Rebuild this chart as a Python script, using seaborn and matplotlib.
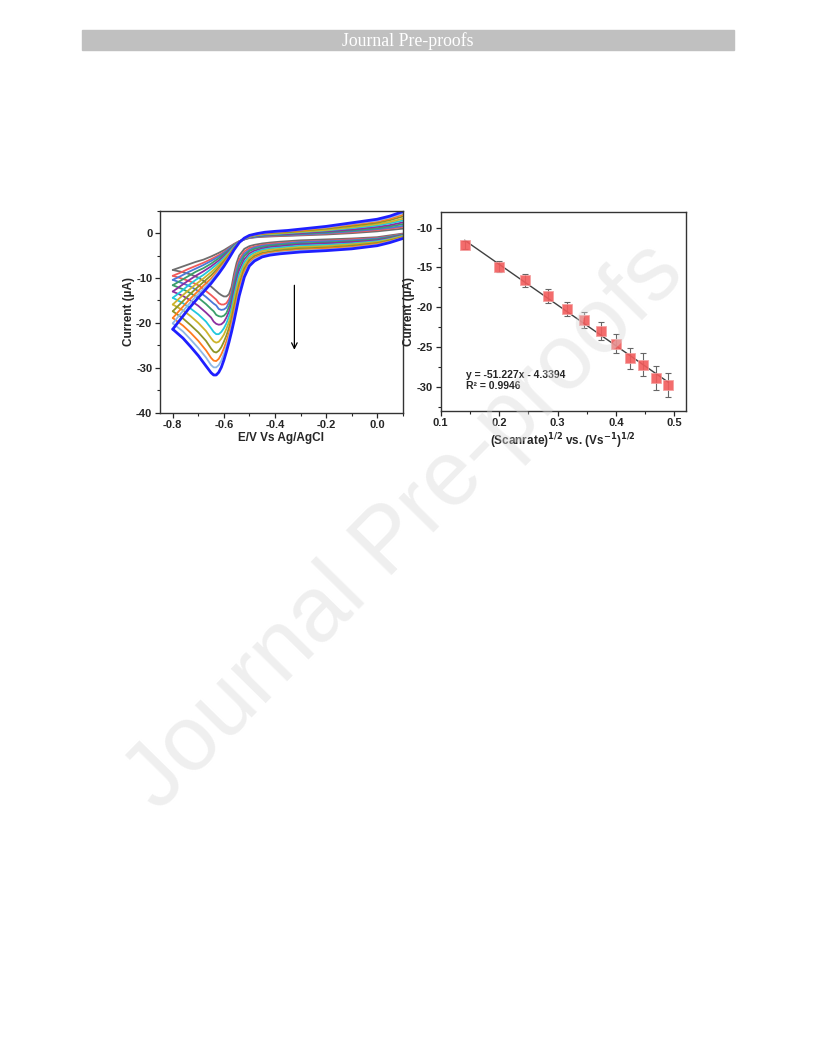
import numpy as np
import pandas as pd
import seaborn as sns
import matplotlib.pyplot as plt
from matplotlib.patches import Rectangle
from matplotlib.ticker import MultipleLocator

# ---- CV curves ----
E_cathodic = [0.1, 0.05, 0.0, -0.1, -0.2, -0.3, -0.38, -0.42, -0.45, -0.48, -0.5, -0.52,
              -0.54, -0.55, -0.56, -0.57, -0.58, -0.59, -0.6, -0.61, -0.62, -0.63, -0.64,
              -0.65, -0.67, -0.7, -0.73, -0.76, -0.8]
E_anodic = [-0.8, -0.77, -0.74, -0.71, -0.68, -0.65, -0.62, -0.6, -0.58, -0.56, -0.54,
            -0.52, -0.5, -0.47, -0.44, -0.4, -0.35, -0.3, -0.2, -0.1, 0.0, 0.05, 0.1]

curve_names = ["gray", "red", "blue2", "green", "purple", "cyan", "gold",
               "olive", "orange", "lightblue", "blue"]

I_cathodic = {
    "gray":      [-0.1, -0.5, -0.9, -1.2, -1.4, -1.6, -1.9, -2.1, -2.3, -2.6, -2.9, -3.5, -5.0, -6.6, -9.0, -12.0, -13.6, -14.1, -14.1, -13.8, -13.4, -12.9, -12.4, -11.9, -11.0, -9.9, -9.2, -8.7, -8.2],
    "red":       [-0.2, -0.7, -1.1, -1.4, -1.7, -1.9, -2.2, -2.4, -2.6, -3.0, -3.3, -4.1, -5.9, -7.6, -10.1, -13.0, -14.7, -15.6, -15.9, -15.9, -15.6, -14.8, -14.3, -13.8, -12.9, -11.6, -10.8, -10.2, -9.5],
    "blue2":     [-0.3, -0.8, -1.2, -1.6, -1.8, -2.0, -2.4, -2.6, -2.8, -3.2, -3.7, -4.6, -6.5, -8.3, -10.8, -13.7, -15.4, -16.6, -17.0, -17.1, -16.9, -16.1, -15.7, -15.2, -14.2, -12.9, -11.9, -11.2, -10.4],
    "green":     [-0.4, -0.9, -1.4, -1.8, -2.1, -2.3, -2.6, -2.8, -3.1, -3.5, -4.0, -5.1, -7.3, -9.3, -11.7, -14.6, -16.4, -17.8, -18.4, -18.6, -18.5, -18.2, -17.4, -16.9, -15.8, -14.4, -13.4, -12.5, -11.6],
    "purple":    [-0.5, -1.1, -1.6, -2.0, -2.3, -2.5, -2.9, -3.1, -3.4, -3.9, -4.5, -5.8, -8.2, -10.3, -12.8, -15.6, -17.5, -18.8, -19.8, -20.3, -20.4, -20.2, -19.7, -18.8, -17.7, -16.2, -15.0, -14.0, -13.0],
    "cyan":      [-0.6, -1.3, -1.8, -2.3, -2.6, -2.8, -3.2, -3.4, -3.7, -4.3, -5.0, -6.5, -9.2, -11.4, -13.9, -16.7, -18.6, -20.1, -21.2, -22.0, -22.5, -22.5, -22.0, -21.2, -19.7, -18.1, -16.8, -15.6, -14.4],
    "gold":      [-0.7, -1.4, -2.0, -2.5, -2.9, -3.1, -3.5, -3.7, -4.0, -4.7, -5.5, -7.2, -10.2, -12.5, -15.1, -17.8, -19.8, -21.3, -22.6, -23.5, -24.2, -24.4, -24.1, -23.4, -21.8, -20.0, -18.5, -17.2, -15.9],
    "olive":     [-0.9, -1.6, -2.2, -2.8, -3.2, -3.4, -3.8, -4.1, -4.4, -5.1, -6.0, -7.9, -11.3, -13.7, -16.4, -19.0, -21.1, -22.8, -24.2, -25.4, -26.2, -26.6, -26.4, -25.7, -24.0, -22.1, -20.5, -19.0, -17.4],
    "orange":    [-1.0, -1.8, -2.4, -3.1, -3.4, -3.7, -4.1, -4.4, -4.7, -5.5, -6.5, -8.6, -12.3, -14.9, -17.5, -20.1, -22.3, -24.1, -25.7, -27.0, -28.0, -28.5, -28.4, -27.8, -26.1, -24.0, -22.2, -20.6, -18.9],
    "lightblue": [-1.1, -1.9, -2.6, -3.3, -3.7, -3.9, -4.3, -4.6, -5.0, -5.8, -6.9, -9.2, -13.1, -15.8, -18.5, -21.0, -23.2, -25.2, -26.9, -28.4, -29.4, -29.9, -29.9, -29.4, -27.7, -25.6, -23.7, -21.9, -20.1],
    "blue":      [-1.2, -2.1, -2.8, -3.5, -3.9, -4.2, -4.6, -4.9, -5.3, -6.2, -7.3, -9.8, -14.0, -16.8, -19.5, -22.0, -24.3, -26.4, -28.3, -29.9, -31.0, -31.6, -31.6, -31.1, -29.6, -27.3, -25.3, -23.4, -21.4],
}
I_anodic = {
    "gray":      [-8.2, -7.6, -7.0, -6.4, -5.9, -5.2, -4.4, -3.8, -3.1, -2.4, -1.8, -1.4, -1.1, -0.9, -0.8, -0.7, -0.6, -0.5, -0.3, 0.0, 0.4, 0.7, 1.0],
    "red":       [-9.5, -8.8, -8.0, -7.3, -6.6, -5.8, -4.9, -4.2, -3.4, -2.5, -1.8, -1.4, -1.0, -0.8, -0.7, -0.6, -0.5, -0.4, -0.1, 0.2, 0.7, 1.0, 1.4],
    "blue2":     [-10.4, -9.6, -8.7, -7.9, -7.1, -6.2, -5.2, -4.4, -3.5, -2.6, -1.9, -1.4, -1.0, -0.8, -0.6, -0.5, -0.4, -0.3, 0.0, 0.4, 0.9, 1.2, 1.6],
    "green":     [-11.6, -10.6, -9.6, -8.6, -7.8, -6.8, -5.6, -4.7, -3.8, -2.7, -1.9, -1.3, -0.9, -0.7, -0.5, -0.4, -0.3, -0.1, 0.2, 0.6, 1.1, 1.5, 2.0],
    "purple":    [-13.0, -11.8, -10.6, -9.5, -8.5, -7.4, -6.1, -5.1, -4.0, -2.9, -1.9, -1.3, -0.9, -0.6, -0.4, -0.3, -0.2, 0.0, 0.4, 0.8, 1.4, 1.8, 2.4],
    "cyan":      [-14.4, -13.1, -11.7, -10.4, -9.3, -8.0, -6.6, -5.5, -4.3, -3.0, -1.9, -1.3, -0.8, -0.5, -0.3, -0.2, 0.0, 0.2, 0.6, 1.1, 1.7, 2.2, 2.8],
    "gold":      [-15.9, -14.3, -12.8, -11.4, -10.1, -8.7, -7.1, -5.9, -4.6, -3.2, -2.0, -1.2, -0.8, -0.4, -0.2, -0.1, 0.1, 0.3, 0.7, 1.3, 2.0, 2.5, 3.2],
    "olive":     [-17.4, -15.7, -14.0, -12.4, -10.9, -9.4, -7.6, -6.3, -4.9, -3.3, -2.0, -1.2, -0.7, -0.3, -0.1, 0.1, 0.2, 0.5, 1.0, 1.6, 2.3, 2.9, 3.7],
    "orange":    [-18.9, -17.0, -15.1, -13.4, -11.7, -10.1, -8.1, -6.7, -5.1, -3.5, -2.0, -1.2, -0.6, -0.3, 0.0, 0.2, 0.4, 0.6, 1.2, 1.9, 2.6, 3.2, 4.1],
    "lightblue": [-20.1, -18.0, -16.0, -14.1, -12.4, -10.6, -8.5, -7.0, -5.4, -3.6, -2.1, -1.1, -0.6, -0.2, 0.1, 0.3, 0.5, 0.8, 1.3, 2.1, 2.8, 3.5, 4.4],
    "blue":      [-21.4, -19.2, -17.0, -15.0, -13.1, -11.2, -9.0, -7.4, -5.6, -3.7, -2.1, -1.1, -0.5, -0.1, 0.2, 0.4, 0.6, 0.9, 1.5, 2.3, 3.1, 3.8, 4.8],
}
curve_colors = ["#6e6e6e", "#f25a5a", "#4a78d8", "#3a9e6a", "#8c2ea0", "#22c8dc",
                "#cdb42c", "#8d9426", "#ff7a1e", "#8fb8e6", "#1f1fff"]

# ---- peak current vs sqrt(scan rate) ----
sqrt_rate = [0.141, 0.2, 0.245, 0.283, 0.316, 0.346, 0.374, 0.4, 0.424, 0.447, 0.469, 0.49]
peak_current = [-12.2, -14.9, -16.6, -18.6, -20.2, -21.6, -23.0, -24.6, -26.4, -27.2, -28.9, -29.8]
peak_err = [0.5, 0.7, 0.8, 0.9, 0.9, 1.0, 1.1, 1.2, 1.3, 1.4, 1.5, 1.5]
fit_text = "y = -51.227x - 4.3394\nR² = 0.9946"

sns.set_style("ticks")
plt.rcParams["font.family"] = ["Liberation Sans", "DejaVu Sans"]
plt.rcParams["mathtext.default"] = "bf"
plt.rcParams["axes.unicode_minus"] = False
plt.rcParams["axes.linewidth"] = 1.0

fig = plt.figure(figsize=(8.16, 10.56), dpi=100)

# page header
fig.patches.append(Rectangle((82 / 816, 1 - 50 / 1056), 652 / 816, 20 / 1056,
                             transform=fig.transFigure, color="#c0c0c0", zorder=0))
fig.text(408 / 816, 1 - 41 / 1056, "Journal Pre-proofs", ha="center", va="center",
         color="white", fontsize=12.8, family=["Liberation Serif", "DejaVu Serif"])

ax1 = fig.add_axes([160 / 816, 1 - 412.7 / 1056, 242.7 / 816, 202 / 1056])
ax2 = fig.add_axes([440.7 / 816, 1 - 410.7 / 1056, 245.3 / 816, 199 / 1056])

for name, col in zip(curve_names, curve_colors):
    d = pd.concat([
        pd.DataFrame({"E": E_cathodic, "I": I_cathodic[name], "branch": "c"}),
        pd.DataFrame({"E": E_anodic, "I": I_anodic[name], "branch": "a"}),
    ])
    lw = 2.0 if name == "blue" else 1.3
    sns.lineplot(data=d, x="E", y="I", units="branch", estimator=None, sort=False,
                 color=col, linewidth=lw, ax=ax1, legend=False,
                 solid_joinstyle="round", solid_capstyle="round")

ax1.annotate("", xy=(-0.324, -26.6), xytext=(-0.324, -11.0),
             arrowprops=dict(arrowstyle="->", color="black", lw=0.9))
ax1.set_xlim(-0.85, 0.1)
ax1.set_ylim(-40, 5)
ax1.xaxis.set_major_locator(MultipleLocator(0.2))
ax1.xaxis.set_minor_locator(MultipleLocator(0.1))
ax1.yaxis.set_major_locator(MultipleLocator(10))
ax1.yaxis.set_minor_locator(MultipleLocator(5))
ax1.set_xticks([-0.8, -0.6, -0.4, -0.2, 0.0])
ax1.set_xticklabels(["-0.8", "-0.6", "-0.4", "-0.2", "0.0"])
ax1.set_xlabel("E/V Vs Ag/AgCl", fontsize=8.5, fontweight="bold", labelpad=1)
ax1.set_ylabel("Current (µA)", fontsize=8.5, fontweight="bold", labelpad=1)

# right panel
ax2.errorbar(sqrt_rate, peak_current, yerr=peak_err, fmt="none", ecolor="#666666",
             elinewidth=0.8, capsize=2, capthick=0.8, zorder=2)
sns.regplot(x=sqrt_rate, y=peak_current, ci=None, scatter=False, ax=ax2,
            line_kws=dict(color="#404040", lw=1.0, zorder=3))
sns.scatterplot(x=sqrt_rate, y=peak_current, marker="s", s=55, color="#f25c5c",
                edgecolor="#f4a0a0", linewidth=0.6, alpha=0.9, ax=ax2, zorder=4)
ax2.text(0.143, -29.2, fit_text, fontsize=7.5, fontweight="bold", va="center",
         linespacing=1.15)
ax2.set_xlim(0.1, 0.52)
ax2.set_ylim(-33, -8)
ax2.xaxis.set_major_locator(MultipleLocator(0.1))
ax2.xaxis.set_minor_locator(MultipleLocator(0.05))
ax2.yaxis.set_major_locator(MultipleLocator(5))
ax2.yaxis.set_minor_locator(MultipleLocator(2.5))
ax2.set_xlabel(r"(Scanrate)$^{1/2}$ vs. (Vs$^{-1}$)$^{1/2}$", fontsize=8.5,
               fontweight="bold", labelpad=2)
ax2.set_ylabel("Current (µA)", fontsize=8.5, fontweight="bold", labelpad=1)

for ax in (ax1, ax2):
    for sp in ax.spines.values():
        sp.set_visible(True)
        sp.set_color("#333333")
    ax.tick_params(which="major", length=3.5, width=0.9, labelsize=8, pad=2)
    ax.tick_params(which="minor", length=2, width=0.8)
    for lab in ax.get_xticklabels() + ax.get_yticklabels():
        lab.set_fontweight("bold")

# watermark
fig.text(405 / 816, 1 - 527 / 1056, "Journal Pre-proofs", rotation=45.5,
         ha="center", va="center", fontsize=66, color="#d8d8d8", alpha=0.4,
         zorder=10)

fig.savefig("out.png", dpi=100)
